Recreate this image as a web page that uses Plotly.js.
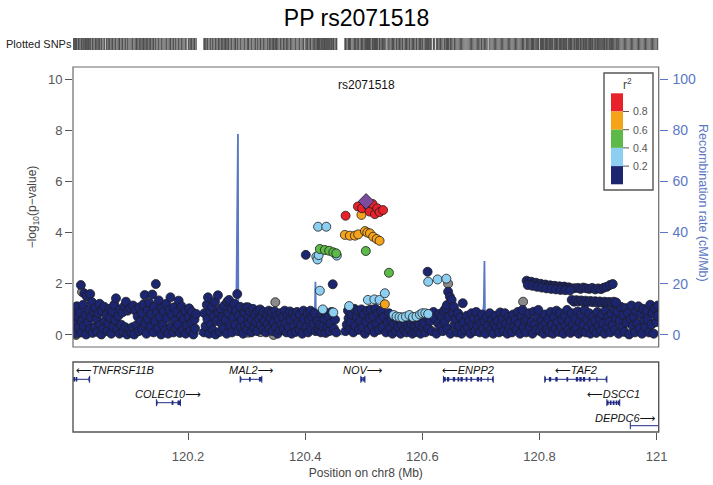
<!DOCTYPE html>
<html><head><meta charset="utf-8">
<script src="https://cdn.plot.ly/plotly-3.0.1.min.js"></script>
<style>html,body{margin:0;padding:0;background:#fff}#plot{width:713px;height:485px}</style>
</head><body><div id="plot"></div>
<script>
// ---------------- DATA ----------------
const plotTitle = 'PP rs2071518';
const indexSNP = 'rs2071518';
const chromName = 'chr8';
const xRange = [120.0036, 121.0035];

// [position (Mb), -log10(p)] grouped by r2 bin
const indexSNPData = [[120.504, 5.22]];
const redSNPs = [[120.469,4.66],[120.490,5.02],[120.497,4.95],[120.507,5.05],[120.510,4.82],[120.515,5.12],[120.519,4.72],[120.523,4.95],[120.527,4.80],[120.533,4.88]];
const orangeSNPs = [[120.4677,3.91],[120.4762,3.88],[120.4848,3.88],[120.4904,3.93],[120.496,4.69],[120.502,4.06],[120.506,4.00],[120.5105,3.97],[120.516,3.84],[120.522,3.75],[120.527,3.68],[120.536,1.20]];
const greenSNPs = [[120.425,3.36],[120.4335,3.32],[120.441,3.29],[120.448,3.23],[120.453,3.19],[120.5035,3.28],[120.543,2.43]];
const lightBlueSNPs = [[120.422,4.23],[120.436,4.23],[120.419,3.06],[120.421,2.95],[120.423,3.12],[120.454,3.10],
 [120.425,1.73],[120.430,1.00],[120.448,0.88],[120.475,1.13],[120.507,1.37],[120.518,1.39],[120.527,1.37],[120.536,1.63],
 [120.551,0.78],[120.556,0.72],[120.561,0.70],[120.566,0.68],[120.572,0.72],[120.578,0.78],[120.584,0.70],[120.590,0.72],[120.596,0.80],[120.600,0.85],[120.605,0.85],[120.610,0.82],
 [120.610,2.08],[120.626,2.17],[120.641,2.20]];
const greySNPs = [[120.009,0.00],[120.019,1.68],[120.028,1.50],[120.3025,0.09],[120.3235,0.11],[120.346,0.00],[120.349,1.28],[120.477,0.74],[120.505,0.65],[120.644,2.00],[120.701,0.67],[120.772,1.30],[120.803,0.26],[120.875,0.60]];
const navySNPs = [
 [120.004,0.62],[120.005,0.18],[120.006,0.95],[120.008,0.40],[120.009,0.05],[120.010,1.12],[120.012,0.72],[120.013,0.28],[120.015,0.88],[120.017,1.95],[120.018,0.10],[120.019,0.55],
 [120.021,1.18],[120.022,0.35],[120.023,1.62],[120.025,0.78],[120.026,0.02],[120.027,1.52],[120.029,0.48],[120.030,0.98],[120.032,0.22],[120.033,1.60],[120.034,0.70],[120.036,1.28],[120.037,0.08],[120.039,0.90],
 [120.041,0.30],[120.042,1.05],[120.044,0.62],[120.045,0.12],[120.047,0.85],[120.049,1.22],[120.050,0.40],[120.052,0.02],[120.053,0.95],[120.055,0.25],[120.057,1.10],[120.058,0.55],
 [120.061,0.80],[120.062,0.15],[120.064,0.45],[120.066,1.02],[120.067,0.68],[120.069,0.05],[120.071,0.92],[120.072,0.32],[120.074,1.18],[120.076,0.58],[120.077,1.43],[120.079,0.20],
 [120.081,0.75],[120.083,0.05],[120.084,1.00],[120.086,0.40],[120.088,0.88],[120.089,0.12],[120.091,1.12],[120.093,0.30],[120.094,1.30],[120.096,0.02],[120.097,0.95],[120.099,0.22],
 [120.101,1.05],[120.103,0.10],[120.105,0.30],[120.106,1.15],[120.108,0.02],[120.110,0.95],[120.112,0.38],[120.114,0.72],[120.116,0.15],[120.117,1.08],[120.119,0.55],
 [120.121,0.85],[120.122,0.20],[120.124,1.20],[120.126,1.56],[120.127,0.45],[120.129,0.05],[120.131,0.98],[120.132,0.62],[120.134,1.25],[120.136,0.30],[120.137,0.82],[120.139,1.58],
 [120.141,0.10],[120.142,1.10],[120.144,0.52],[120.145,1.99],[120.147,0.88],[120.149,0.25],[120.150,1.35],[120.152,0.70],[120.154,0.02],[120.155,1.05],[120.157,0.40],[120.159,0.92],
 [120.161,0.18],[120.163,1.22],[120.164,0.65],[120.166,0.05],[120.168,0.98],[120.170,1.47],[120.171,0.32],[120.173,0.80],[120.175,0.10],[120.176,1.08],[120.178,0.55],[120.179,0.25],
 [120.181,0.90],[120.183,0.40],[120.184,1.34],[120.186,0.08],[120.188,0.75],[120.189,1.12],[120.191,0.20],[120.193,0.62],[120.195,0.95],[120.196,0.05],[120.198,0.38],
 [120.201,0.72],[120.202,1.04],[120.204,0.15],[120.206,0.48],[120.207,0.90],[120.209,0.02],[120.211,0.60],[120.212,0.25],[120.214,0.82],
 [120.227,0.10],[120.228,0.85],[120.230,0.35],[120.232,1.18],[120.233,0.62],[120.234,1.47],[120.236,0.05],[120.238,0.92],[120.239,0.40],
 [120.241,1.10],[120.242,0.20],[120.244,0.72],[120.246,1.30],[120.247,0.02],[120.249,0.55],[120.251,1.55],[120.252,0.88],[120.254,0.12],[120.256,1.02],[120.257,0.45],[120.259,0.70],
 [120.261,0.25],[120.262,1.15],[120.264,0.60],[120.266,0.05],[120.267,1.30],[120.269,0.85],[120.270,1.37],[120.272,0.35],[120.274,1.05],[120.275,0.10],[120.277,0.68],[120.279,1.22],
 [120.281,0.40],[120.282,0.95],[120.284,1.60],[120.285,0.15],[120.287,0.75],[120.289,1.10],[120.290,0.30],[120.292,0.58],[120.294,0.05],[120.296,0.88],[120.297,0.35],[120.299,1.08],
 [120.301,0.22],[120.3025,1.08],[120.303,0.70],[120.304,0.45],[120.306,0.92],[120.308,0.10],[120.309,0.60],[120.311,1.02],[120.313,0.28],[120.315,0.80],[120.316,0.50],[120.318,0.15],[120.319,0.95],
 [120.321,0.62],[120.323,1.00],[120.324,0.38],[120.326,0.72],[120.328,0.20],[120.329,0.90],[120.331,0.55],[120.333,0.10],[120.335,0.80],[120.336,0.42],[120.338,0.95],[120.339,0.25],
 [120.341,0.65],[120.343,0.88],[120.344,0.15],[120.346,0.50],[120.348,0.92],[120.350,0.30],[120.351,0.75],[120.353,0.05],[120.355,0.60],[120.357,0.20],[120.358,0.85],[120.360,0.40],
 [120.362,0.70],[120.363,0.22],[120.365,0.95],[120.367,0.48],[120.368,0.10],[120.370,0.78],[120.372,0.30],[120.374,0.92],[120.375,0.60],[120.377,0.05],[120.379,0.85],
 [120.381,0.35],[120.383,0.72],[120.384,0.12],[120.386,0.90],[120.388,0.50],[120.390,0.20],[120.391,0.80],[120.393,0.40],[120.395,0.05],[120.397,0.95],[120.398,0.62],
 [120.401,3.13],[120.402,0.30],[120.404,0.85],[120.405,0.10],[120.407,0.60],[120.409,0.95],[120.410,0.25],[120.412,0.70],[120.414,0.42],[120.416,0.85],[120.418,0.15],
 [120.421,0.55],[120.423,0.20],[120.425,0.40],[120.427,0.10],[120.428,0.80],[120.430,0.35],[120.431,0.95],[120.433,0.62],[120.435,0.08],[120.436,0.85],[120.438,0.30],[120.440,0.72],[120.441,0.15],[120.443,0.45],[120.445,0.90],[120.447,1.98],[120.449,0.25],
 [120.451,0.60],[120.453,0.10],[120.469,0.15],
 [120.471,0.40],[120.473,0.95],[120.474,0.65],[120.476,0.25],[120.478,0.50],[120.480,0.80],[120.482,0.10],[120.484,1.02],[120.486,0.35],[120.488,0.70],
 [120.490,0.95],[120.492,0.20],[120.494,0.55],[120.496,1.00],[120.498,0.30],[120.500,0.80],[120.502,0.05],[120.504,0.50],[120.506,0.95],[120.508,0.22],[120.510,0.65],
 [120.512,1.00],[120.514,0.35],[120.516,0.72],[120.518,0.10],[120.520,1.02],[120.522,0.45],[120.524,0.85],[120.526,0.20],[120.528,0.60],[120.530,0.95],
 [120.532,0.30],[120.534,0.70],[120.538,0.10],[120.541,0.50],[120.543,0.85],[120.545,0.25],[120.547,0.60],[120.549,0.05],
 [120.551,0.45],[120.553,0.70],[120.555,0.15],[120.557,0.55],[120.559,0.30],[120.561,0.62],[120.563,0.05],[120.565,0.40],[120.567,0.68],[120.569,0.20],
 [120.571,0.50],[120.573,0.10],[120.575,0.35],[120.577,0.65],[120.579,0.22],[120.581,0.45],[120.583,0.05],[120.585,0.60],[120.587,0.30],[120.589,0.12],
 [120.591,0.55],[120.593,0.20],[120.595,0.40],[120.597,0.05],[120.599,0.62],[120.601,0.30],[120.603,0.48],[120.605,0.10],[120.607,0.70],[120.609,2.47],[120.610,0.25],
 [120.612,0.80],[120.614,0.55],[120.616,0.15],[120.619,0.90],[120.621,0.65],[120.624,0.05],[120.627,0.45],[120.629,0.82],
 [120.631,0.30],[120.633,0.72],[120.635,0.15],[120.637,0.95],[120.638,0.50],[120.640,1.04],[120.642,1.17],[120.643,0.25],[120.644,1.69],[120.645,0.70],[120.647,1.50],[120.648,0.05],[120.650,1.37],[120.652,0.85],[120.654,1.10],
 [120.655,0.40],[120.657,0.62],[120.659,0.10],[120.661,0.85],[120.663,0.35],[120.665,0.70],[120.667,0.05],[120.669,1.24],[120.671,0.50],[120.673,0.20],
 [120.676,0.75],[120.678,0.30],[120.680,0.55],[120.682,0.05],[120.684,0.85],[120.686,0.40],[120.688,0.65],[120.690,0.15],[120.692,0.90],[120.694,0.35],
 [120.696,0.60],[120.698,0.10],[120.700,0.45],[120.702,0.80],[120.704,0.25],[120.706,0.55],[120.708,0.05],[120.710,0.70],[120.712,0.35],[120.715,0.85],
 [120.717,0.20],[120.719,0.60],[120.721,0.05],[120.723,0.42],[120.725,0.75],[120.727,0.30],[120.729,0.55],[120.731,0.10],[120.733,0.88],[120.735,0.40],
 [120.737,0.65],[120.739,0.15],[120.741,0.85],[120.743,0.45],[120.745,0.05],[120.747,0.70],[120.749,0.30],[120.751,0.55],[120.753,0.10],[120.755,0.80],
 [120.757,0.35],[120.759,0.60],[120.761,0.20],[120.763,0.90],[120.765,0.45],[120.767,0.05],[120.769,0.75],[120.771,0.98],[120.773,0.30],[120.775,0.55],
 [120.777,0.10],[120.779,0.62],[120.782,0.85],[120.784,0.30],[120.786,0.50],[120.788,0.05],[120.790,0.91],[120.792,0.40],[120.794,0.20],[120.796,0.70],[120.798,0.98],
 [120.801,0.15],[120.803,0.55],[120.805,0.35],[120.807,0.05],[120.809,0.80],[120.811,0.45],[120.813,0.20],[120.815,0.62],[120.817,0.10],[120.819,0.90],
 [120.821,0.40],[120.823,0.05],[120.825,0.70],[120.827,0.25],[120.829,0.95],[120.831,0.50],[120.833,0.12],[120.835,0.85],[120.837,0.30],[120.839,0.60],
 [120.841,0.05],[120.843,0.75],[120.845,0.35],[120.847,0.98],[120.849,0.20],[120.851,0.55],[120.853,0.08],[120.855,0.85],[120.857,0.40],[120.859,0.15],
 [120.861,0.65],[120.863,0.25],[120.865,0.92],[120.867,0.05],[120.869,0.50],[120.871,0.80],[120.873,0.15],[120.875,0.40],[120.877,0.98],[120.879,0.10],
 [120.881,0.60],[120.883,0.30],[120.885,0.85],[120.887,0.05],[120.889,0.45],[120.891,0.72],[120.893,0.20],[120.895,0.55],[120.897,0.08],[120.899,0.90],
 [120.901,0.35],[120.903,0.62],[120.905,0.15],[120.907,0.80],[120.909,0.45],[120.911,0.05],[120.913,0.95],[120.915,0.30],[120.917,0.70],[120.919,0.52],
 [120.921,0.10],[120.923,0.85],[120.925,0.40],[120.927,1.02],[120.929,0.20],[120.931,0.65],[120.933,0.90],[120.935,0.05],[120.937,0.55],[120.939,1.10],
 [120.941,0.30],[120.943,0.78],[120.945,0.12],[120.947,1.05],[120.949,0.48],[120.951,0.85],[120.953,0.02],[120.955,0.62],[120.957,1.15],[120.959,0.35],
 [120.961,0.70],[120.963,0.10],[120.965,0.92],[120.967,0.45],[120.969,1.12],[120.971,0.25],[120.973,0.80],[120.975,0.05],[120.977,1.02],[120.979,0.55],
 [120.981,0.30],[120.983,0.95],[120.985,0.60],[120.987,0.10],[120.989,1.18],[120.991,0.40],[120.993,0.85],[120.995,0.05],[120.997,1.05],[120.999,0.50],[121.001,0.75],[121.002,1.15],
 // high haplotype band
 [120.778,2.12],[120.782,2.05],[120.786,2.08],[120.790,2.02],[120.794,2.04],[120.798,1.98],[120.802,2.00],[120.806,1.95],[120.810,1.97],[120.814,1.92],[120.818,1.94],[120.822,1.90],[120.826,1.92],[120.830,1.88],[120.834,1.90],[120.838,1.87],[120.842,1.89],[120.846,1.85],[120.850,1.86],[120.854,1.82],[120.860,1.83],[120.866,1.84],[120.870,1.80],[120.875,1.85],[120.880,1.82],[120.885,1.80],[120.890,1.84],[120.895,1.78],[120.900,1.82],[120.905,1.79],[120.910,1.85],[120.915,1.88],[120.920,1.95],[120.925,1.99],
 [120.780,1.95],[120.788,1.92],[120.796,1.88],[120.804,1.85],[120.812,1.82],[120.820,1.80],[120.828,1.78],[120.836,1.76],[120.844,1.75],[120.852,1.74],
 [120.855,1.37],[120.859,1.30],[120.863,1.36],[120.867,1.31],[120.871,1.35],[120.875,1.30],[120.879,1.34],[120.883,1.29],[120.887,1.33],[120.891,1.28],[120.895,1.32],[120.899,1.27],[120.903,1.31],[120.907,1.26],[120.911,1.30],[120.915,1.27],[120.919,1.29],[120.923,1.26],[120.927,1.30],[120.931,1.27]
];

// recombination rate (cM/Mb)
const recPos  = [120.000,120.030,120.060,120.100,120.140,120.180,120.220,120.260,120.282,120.2848,120.2852,120.2858,120.289,120.320,120.360,120.400,120.4165,120.4175,120.4185,120.430,120.4675,120.4685,120.500,120.5300,120.5335,120.5345,120.5355,120.538,120.560,120.600,120.6245,120.6255,120.6265,120.660,120.700,120.7050,120.7060,120.7070,120.720,120.760,120.800,120.850,120.900,120.9555,120.9565,120.9575,120.980,121.010];
const recRate = [0.3,0.5,0.4,0.6,0.5,0.4,0.6,0.5,0.8,55,78.5,10,0.6,0.4,0.3,0.5,8,20.8,2,0.2,0.2,0.9,0.8,0.8,6,13.5,3,0.5,0.4,0.6,2,4.7,1,0.4,0.5,12,28.9,5,0.6,0.5,0.4,0.6,0.5,1.2,3.3,0.8,0.5,0.6];

// genes
const geneNames  = ['TNFRSF11B','COLEC10','MAL2','NOV','ENPP2','TAF2','DSCC1','DEPDC6'];
const geneStart  = [119.990,120.146,120.289,120.495,120.636,120.809,120.915,120.955];
const geneEnd    = [120.032,120.187,120.326,120.502,120.721,120.915,120.937,121.100];
const geneStrand = ['-','+','+','+','-','-','-','+'];
const geneRow    = [0,1,0,0,0,0,1,2];
const geneExons  = [
 [[120.004,120.007],[120.008,120.011],[120.030,120.032]],
 [[120.146,120.148],[120.172,120.175],[120.182,120.187]],
 [[120.289,120.291],[120.304,120.307],[120.321,120.326]],
 [[120.495,120.498],[120.499,120.502]],
 [[120.636,120.640],[120.642,120.646],[120.652,120.656],[120.660,120.663],[120.665,120.669],[120.674,120.677],[120.682,120.685],[120.693,120.697],[120.699,120.702],[120.711,120.713],[120.719,120.721]],
 [[120.809,120.811],[120.816,120.820],[120.827,120.831],[120.846,120.849],[120.862,120.866],[120.868,120.872],[120.874,120.878],[120.884,120.887],[120.897,120.899],[120.913,120.915]],
 [[120.915,120.918],[120.920,120.923],[120.925,120.928],[120.930,120.933],[120.934,120.937]],
 []
];

const r2Breaks = ['0.8','0.6','0.4','0.2'];
const r2Colors = ['#e8222a','#f6a31c','#5db948','#8ccff0','#1c2570'];  // 0.8-1, 0.6-0.8, 0.4-0.6, 0.2-0.4, 0-0.2
const greyColor = '#8a8a8a';
const indexColor = '#7c4b9e';

// ---------------- LAYOUT HELPERS ----------------
const W = 713, H = 485;
const PX = v => v / W, PY = v => 1 - v / H;
const plotL = 73, plotR = 658.7;
const xDom = [PX(plotL), PX(plotR)];
const mainDom = [PY(347), PY(67)];
const geneDom = [PY(432), PY(362)];
const rugDom = [PY(50), PY(38)];
const recColor = '#5b78c4';
const axisGrey = '#555555';
const FONT = 'Liberation Sans, Arial, Helvetica, sans-serif';

const traces = [];

// recombination line (base y axis, drawn beneath SNPs)
traces.push({type:'scatter', mode:'lines', x:recPos, y:recRate, xaxis:'x', yaxis:'y',
  line:{color:recColor, width:1.8}, hoverinfo:'skip', showlegend:false});

function snpTrace(arr, color, symbol, size) {
  return {type:'scatter', mode:'markers', x:arr.map(d=>d[0]), y:arr.map(d=>d[1]), xaxis:'x', yaxis:'y2',
    marker:{color:color, size:size, symbol:symbol, line:{color:'#1e1e1e', width:0.8}},
    hoverinfo:'skip', showlegend:false};
}
traces.push(snpTrace(greySNPs, greyColor, 'circle', 9));
traces.push(snpTrace(navySNPs, r2Colors[4], 'circle', 9));
traces.push(snpTrace(lightBlueSNPs, r2Colors[3], 'circle', 9));
traces.push(snpTrace(greenSNPs, r2Colors[2], 'circle', 9));
traces.push(snpTrace(orangeSNPs, r2Colors[1], 'circle', 9));
traces.push(snpTrace(redSNPs, r2Colors[0], 'circle', 9));
traces.push(snpTrace(indexSNPData, indexColor, 'diamond', 12));

// plotted SNPs rug
const allPos = [].concat(navySNPs, greySNPs, lightBlueSNPs, greenSNPs, orangeSNPs, redSNPs, indexSNPData).map(d=>d[0]);
traces.push({type:'scatter', mode:'markers', x:allPos, y:allPos.map(()=>0.5), xaxis:'x', yaxis:'y4',
  marker:{symbol:'line-ns', size:13, color:'#4d4d4d', line:{color:'#4d4d4d', width:1}}, hoverinfo:'skip', showlegend:false});

// genes
const rowGeneY = [17.3, 40.7, 63.7];
const rowLabelY = [8.5, 32.5, 56];
const geneColor = '#1f2a80';
const annotations = [];
const pxPerMb = (plotR - plotL) / (xRange[1] - xRange[0]);
const ARR = ch => '<span style="font-family:DejaVu Sans">' + ch + '</span>';
geneNames.forEach((g, i) => {
  const yv = rowGeneY[geneRow[i]];
  traces.push({type:'scatter', mode:'lines', x:[geneStart[i], geneEnd[i]], y:[yv, yv], xaxis:'x', yaxis:'y3',
    line:{color:geneColor, width:1}, hoverinfo:'skip', showlegend:false});
  traces.push({type:'scatter', mode:'markers', x:[geneStart[i], geneEnd[i]], y:[yv, yv], xaxis:'x', yaxis:'y3',
    marker:{symbol:'line-ns', size:5, color:geneColor, line:{color:geneColor, width:1}}, hoverinfo:'skip', showlegend:false});
  geneExons[i].forEach(e => {
    traces.push({type:'scatter', mode:'lines', x:[e[0], e[1]], y:[yv, yv], xaxis:'x', yaxis:'y3',
      line:{color:geneColor, width:4.5}, hoverinfo:'skip', showlegend:false});
  });
  const txt = geneStrand[i] === '-' ? ARR('\u27F5') + '<i>' + g + '</i>' : '<i>' + g + '</i>' + ARR('\u27F6');
  const wPx = (g.length + 2) * 6.6;
  let cx = (Math.max(geneStart[i], xRange[0]) + Math.min(geneEnd[i], xRange[1])) / 2;
  let xanchor = 'center';
  const cPx = plotL + (cx - xRange[0]) * pxPerMb;
  if (cPx - wPx / 2 < plotL + 1) { cx = xRange[0] + 1 / pxPerMb; xanchor = 'left'; }
  else if (cPx + wPx / 2 > plotR - 1) { cx = xRange[1] - 1 / pxPerMb; xanchor = 'right'; }
  annotations.push({xref:'x', yref:'y3', x:cx, y:rowLabelY[geneRow[i]], text:txt, showarrow:false,
    xanchor:xanchor, yanchor:'middle', font:{family:FONT, size:11, color:'#111'}});
});

// index SNP label
annotations.push({xref:'x', yref:'paper', x:indexSNPData[0][0], y:PY(85), xanchor:'center', yanchor:'middle', text:indexSNP, showarrow:false,
  font:{family:FONT, size:12, color:'#111'}});
// Plotted SNPs label
annotations.push({xref:'paper', yref:'paper', x:PX(4), y:PY(44), xanchor:'left', yanchor:'middle', text:'Plotted SNPs', showarrow:false,
  font:{family:FONT, size:11, color:'#222'}});
// right axis title
annotations.push({xref:'paper', yref:'paper', x:PX(703), y:PY(203), xanchor:'center', yanchor:'middle',
  text:'Recombination rate (cM/Mb)', textangle:90, showarrow:false, font:{family:FONT, size:12.5, color:recColor}});

// legend (colour key)
const shapes = [];
shapes.push({type:'rect', xref:'x domain', yref:'y domain', x0:0, x1:1, y0:0, y1:1, line:{color:'#6a6a6a', width:1.2}});
shapes.push({type:'rect', xref:'x domain', yref:'y3 domain', x0:0, x1:1, y0:0, y1:1, line:{color:'#555', width:1.4}});
shapes.push({type:'rect', xref:'paper', yref:'paper', x0:PX(604), x1:PX(653), y0:PY(190), y1:PY(73),
  line:{color:'#555', width:1.4}, fillcolor:'#ffffff', layer:'above'});
const keyTop = 93.3, keyStep = 18.2;
r2Colors.forEach((c, k) => {
  shapes.push({type:'rect', xref:'paper', yref:'paper', x0:PX(611), x1:PX(623),
    y0:PY(keyTop + (k + 1) * keyStep), y1:PY(keyTop + k * keyStep), line:{width:0}, fillcolor:c, layer:'above'});
});
r2Breaks.forEach((b, k) => {
  const yy = keyTop + (k + 1) * keyStep;
  shapes.push({type:'line', xref:'paper', yref:'paper', x0:PX(623), x1:PX(629), y0:PY(yy), y1:PY(yy),
    line:{color:'#555', width:1}, layer:'above'});
  annotations.push({xref:'paper', yref:'paper', x:PX(630.5), y:PY(yy), xanchor:'left', yanchor:'middle', text:b,
    showarrow:false, font:{family:FONT, size:10.5, color:'#555'}});
});
annotations.push({xref:'paper', yref:'paper', x:PX(627.5), y:PY(84), xanchor:'center', yanchor:'middle', text:'r<sup>2</sup>', showarrow:false,
  font:{family:FONT, size:12, color:'#444'}});

const layout = {
  width:W, height:H, margin:{l:0, r:0, t:0, b:0}, paper_bgcolor:'#fff', plot_bgcolor:'rgba(0,0,0,0)',
  font:{family:FONT, color:axisGrey},
  title:{text:plotTitle, x:0.5, xanchor:'center', y:PY(18), yanchor:'middle', font:{family:FONT, size:23, color:'#000'}},
  showlegend:false,
  xaxis:{domain:xDom, range:xRange, anchor:'y3', showgrid:false, zeroline:false, showline:false,
    ticks:'outside', ticklen:7, tickwidth:1, tickcolor:axisGrey, ticklabelstandoff:5,
    tickvals:[120.2,120.4,120.6,120.8,121], ticktext:['120.2','120.4','120.6','120.8','121'],
    tickfont:{family:FONT, size:13, color:axisGrey},
    title:{text:'Position on ' + chromName + ' (Mb)', standoff:6, font:{family:FONT, size:12, color:'#444'}}},
  yaxis:{domain:mainDom, range:[-4.7,104.7], anchor:'x', side:'right', showgrid:false, zeroline:false, showline:false,
    ticks:'outside', ticklen:8, tickwidth:1, tickcolor:recColor, tickvals:[0,20,40,60,80,100], ticklabelstandoff:2,
    tickfont:{family:FONT, size:14, color:recColor}},
  yaxis2:{overlaying:'y', anchor:'x', side:'left', range:[-0.47,10.47], showgrid:false, zeroline:false, showline:false,
    ticks:'outside', ticklen:7, tickwidth:1, tickcolor:axisGrey, tickvals:[0,2,4,6,8,10],
    tickfont:{family:FONT, size:13, color:axisGrey},
    title:{text:'\u2212log<sub>10</sub>(p\u2212value)', standoff:8, font:{family:FONT, size:12, color:'#444'}}},
  yaxis3:{domain:geneDom, range:[70,0], anchor:'x', showgrid:false, zeroline:false, showline:false,
    showticklabels:false, ticks:''},
  yaxis4:{domain:rugDom, range:[0,1], anchor:'x', showgrid:false, zeroline:false, showline:false,
    showticklabels:false, ticks:''},
  shapes:shapes, annotations:annotations
};

Plotly.newPlot('plot', traces, layout, {staticPlot:true, displayModeBar:false});
</script></body></html>
